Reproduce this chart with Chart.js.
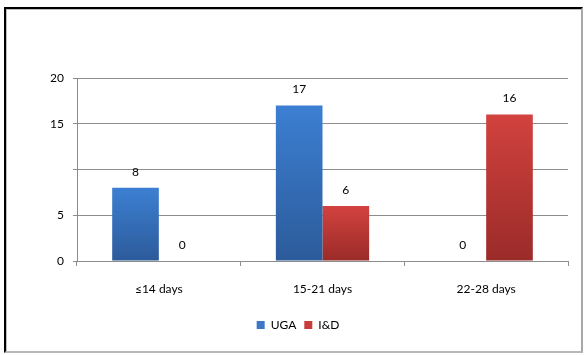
<!DOCTYPE html>
<html>
<head>
<meta charset="utf-8">
<script src="https://cdn.jsdelivr.net/npm/chart.js@4/dist/chart.umd.min.js"></script>
<style>
  html, body { margin: 0; padding: 0; background: #fff; }
  #frame {
    position: absolute;
    left: 4px; top: 7px;
    width: 575px; height: 342px;
    border-top: 2px solid #000;
    border-left: 2px solid #000;
    border-right: 2px solid #a8a8a8;
    border-bottom: 2px solid #b8b8b8;
    box-shadow: inset 1px 1px 0 #bdbdbd;
    background: #fff;
  }
  #wrap { position: absolute; left: 0; top: 0; width: 575px; height: 342px; }
</style>
</head>
<body>
<div id="frame"><div id="wrap"><canvas id="chart"></canvas></div></div>
<script>
// Healing time groups and number of patients per treatment
const categories = ['≤14 days', '15-21 days', '22-28 days'];
const ugaValues = [8, 17, 0];
const idValues = [0, 6, 16];
const seriesNames = ['UGA', 'I&D'];
const yTicks = [0, 5, 15, 20];

const FONT = 'Lato, "Open Sans", sans-serif';

// vertical gradient running over each bar's own height
function barGradient(top, bottom) {
  return function (ctx) {
    const chart = ctx.chart;
    const ys = chart.scales && chart.scales.y;
    if (!ys || ctx.raw === undefined) return top;
    const y0 = ys.getPixelForValue(ctx.raw);
    const y1 = ys.getPixelForValue(0);
    if (!(y1 > y0)) return top;
    const g = chart.ctx.createLinearGradient(0, y0, 0, y1);
    g.addColorStop(0, top);
    g.addColorStop(1, bottom);
    return g;
  };
}

// value printed above every bar
const valueLabels = {
  id: 'valueLabels',
  afterDatasetsDraw(chart) {
    const c = chart.ctx;
    c.save();
    c.font = '12px ' + FONT;
    c.fillStyle = '#000';
    c.textAlign = 'center';
    c.textBaseline = 'middle';
    chart.data.datasets.forEach((ds, i) => {
      chart.getDatasetMeta(i).data.forEach((bar, j) => {
        c.fillText(String(ds.data[j]), bar.x, bar.y - 16);
      });
    });
    c.restore();
  }
};

new Chart(document.getElementById('chart'), {
  type: 'bar',
  data: {
    labels: categories,
    datasets: [
      {
        label: seriesNames[0],
        data: ugaValues,
        backgroundColor: barGradient('#3c7fd2', '#2c5b9a'),
        borderWidth: 0,
        barPercentage: 1,
        categoryPercentage: 0.57
      },
      {
        label: seriesNames[1],
        data: idValues,
        backgroundColor: barGradient('#d2423e', '#9a2b29'),
        borderWidth: 0,
        barPercentage: 1,
        categoryPercentage: 0.57
      }
    ]
  },
  options: {
    responsive: true,
    maintainAspectRatio: false,
    animation: false,
    layout: { padding: { left: 22, right: 13, top: 69, bottom: 10 } },
    scales: {
      x: {
        grid: {
          offset: true,
          drawOnChartArea: false,
          drawTicks: true,
          tickLength: 5,
          color: '#8c8c8c'
        },
        border: { color: '#8c8c8c' },
        ticks: { color: '#000', font: { family: FONT, size: 12 }, padding: 16 },
        afterFit(s) { s.height = 50; }
      },
      y: {
        min: 0,
        max: 20,
        afterBuildTicks(s) { s.ticks = [0, 5, 10, 15, 20].map(v => ({ value: v })); },
        grid: { color: '#8c8c8c', tickLength: 4 },
        border: { color: '#8c8c8c' },
        ticks: {
          color: '#000',
          font: { family: FONT, size: 12 },
          padding: 9,
          callback: v => (yTicks.includes(v) ? String(v) : '')
        },
        afterFit(s) { s.width = 49; }
      }
    },
    plugins: {
      legend: {
        position: 'bottom',
        labels: {
          font: { family: FONT, size: 12 },
          color: '#000',
          boxWidth: 8,
          boxHeight: 8,
          padding: 8,
          generateLabels(chart) {
            const solid = ['#3c78c8', '#c83c3a'];
            return chart.data.datasets.map((ds, i) => ({
              text: ds.label,
              fillStyle: solid[i],
              strokeStyle: solid[i],
              lineWidth: 0,
              hidden: false,
              datasetIndex: i
            }));
          }
        }
      },
      tooltip: { enabled: false }
    }
  },
  plugins: [valueLabels]
});
</script>
</body>
</html>
